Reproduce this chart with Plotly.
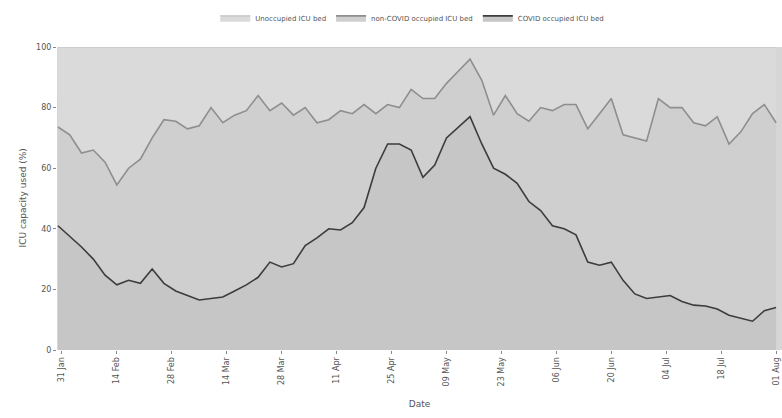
import plotly.graph_objects as go
import pandas as pd

# sample dates every 3 days from 30 Jan 2021
dates = pd.date_range("2021-01-30", "2021-08-01", freq="3D")

total_occupied = [73.6, 71, 65, 66, 62, 54.5, 60, 63, 70, 76, 75.5, 73, 74, 80, 75, 77.5,
                  79, 84, 79, 81.5, 77.5, 80, 75, 76, 79, 78, 81, 78, 81, 80, 86, 83,
                  83, 88, 92, 96, 89, 77.5, 84, 78, 75.5, 80, 79, 81, 81, 73, 78, 83,
                  71, 70, 69, 83, 80, 80, 75, 74, 77, 68, 72, 78, 81, 75]
covid_occupied = [41, 37.5, 34, 30, 24.7, 21.5, 23, 22, 26.7, 22, 19.5, 18, 16.5, 17, 17.5, 19.5,
                  21.5, 24, 29, 27.4, 28.5, 34.5, 37, 40, 39.6, 42, 47, 60, 68, 68, 66, 57,
                  61, 70, 73.6, 77, 68, 60, 58, 55, 49, 46, 41, 40, 38, 29, 28, 29,
                  23, 18.5, 17, 17.5, 18, 16, 14.8, 14.5, 13.5, 11.5, 10.5, 9.5, 13, 14]

non_covid = [round(t - c, 2) for t, c in zip(total_occupied, covid_occupied)]
unoccupied = [round(100 - t, 2) for t in total_occupied]

tick_vals = ["2021-01-31", "2021-02-14", "2021-02-28", "2021-03-14", "2021-03-28",
             "2021-04-11", "2021-04-25", "2021-05-09", "2021-05-23", "2021-06-06",
             "2021-06-20", "2021-07-04", "2021-07-18", "2021-08-01"]
tick_text = ["31 Jan", "14 Feb", "28 Feb", "14 Mar", "28 Mar", "11 Apr", "25 Apr",
             "09 May", "23 May", "06 Jun", "20 Jun", "04 Jul", "18 Jul", "01 Aug"]

fig = go.Figure()
fig.add_trace(go.Scatter(x=dates, y=covid_occupied, name="COVID occupied ICU bed",
                         stackgroup="one", mode="lines",
                         line=dict(color="#3c3c3c", width=1.6),
                         fillcolor="#c6c6c6"))
fig.add_trace(go.Scatter(x=dates, y=non_covid, name="non-COVID occupied ICU bed",
                         stackgroup="one", mode="lines",
                         line=dict(color="#8e8e8e", width=1.6),
                         fillcolor="#cfcfcf"))
fig.add_trace(go.Scatter(x=dates, y=unoccupied, name="Unoccupied ICU bed",
                         stackgroup="one", mode="lines",
                         line=dict(color="#c2c2c2", width=1.2),
                         fillcolor="#dadada"))

fig.update_layout(
    width=782, height=418,
    margin=dict(l=57, r=0, t=47, b=68, autoexpand=False),
    paper_bgcolor="white", plot_bgcolor="#d6d6d6",
    font=dict(family="DejaVu Sans", size=8, color="#555"),
    showlegend=True,
    legend=dict(orientation="h", x=0.49, xanchor="center", y=0.992, yanchor="top",
                yref="container", traceorder="reversed", font=dict(size=7, color="#555"),
                itemwidth=30, bgcolor="rgba(0,0,0,0)"),
    xaxis=dict(range=["2021-01-29 18:00", "2021-08-02 12:00"], tickvals=tick_vals,
               ticktext=tick_text, tickangle=-90, showgrid=False, ticks="outside",
               ticklen=3, tickcolor="#888", title=dict(text="Date", font=dict(size=9)),
               showline=False, zeroline=False, automargin=False,
               ticklabeloverflow="allow"),
    yaxis=dict(range=[0, 100], tickvals=[0, 20, 40, 60, 80, 100], showgrid=False,
               ticks="outside", ticklen=3, tickcolor="#888", zeroline=False,
               automargin=False),
    annotations=[dict(text="ICU capacity used (%)", xref="paper", yref="paper",
                      x=(22 - 57) / 725, y=0.5, xanchor="center", yanchor="middle",
                      textangle=-90, showarrow=False, font=dict(size=9, color="#555"))],
)

fig.write_html("out.html", config={"displayModeBar": False},
               post_script="document.body.style.margin='0px';document.body.style.overflow='hidden';")
